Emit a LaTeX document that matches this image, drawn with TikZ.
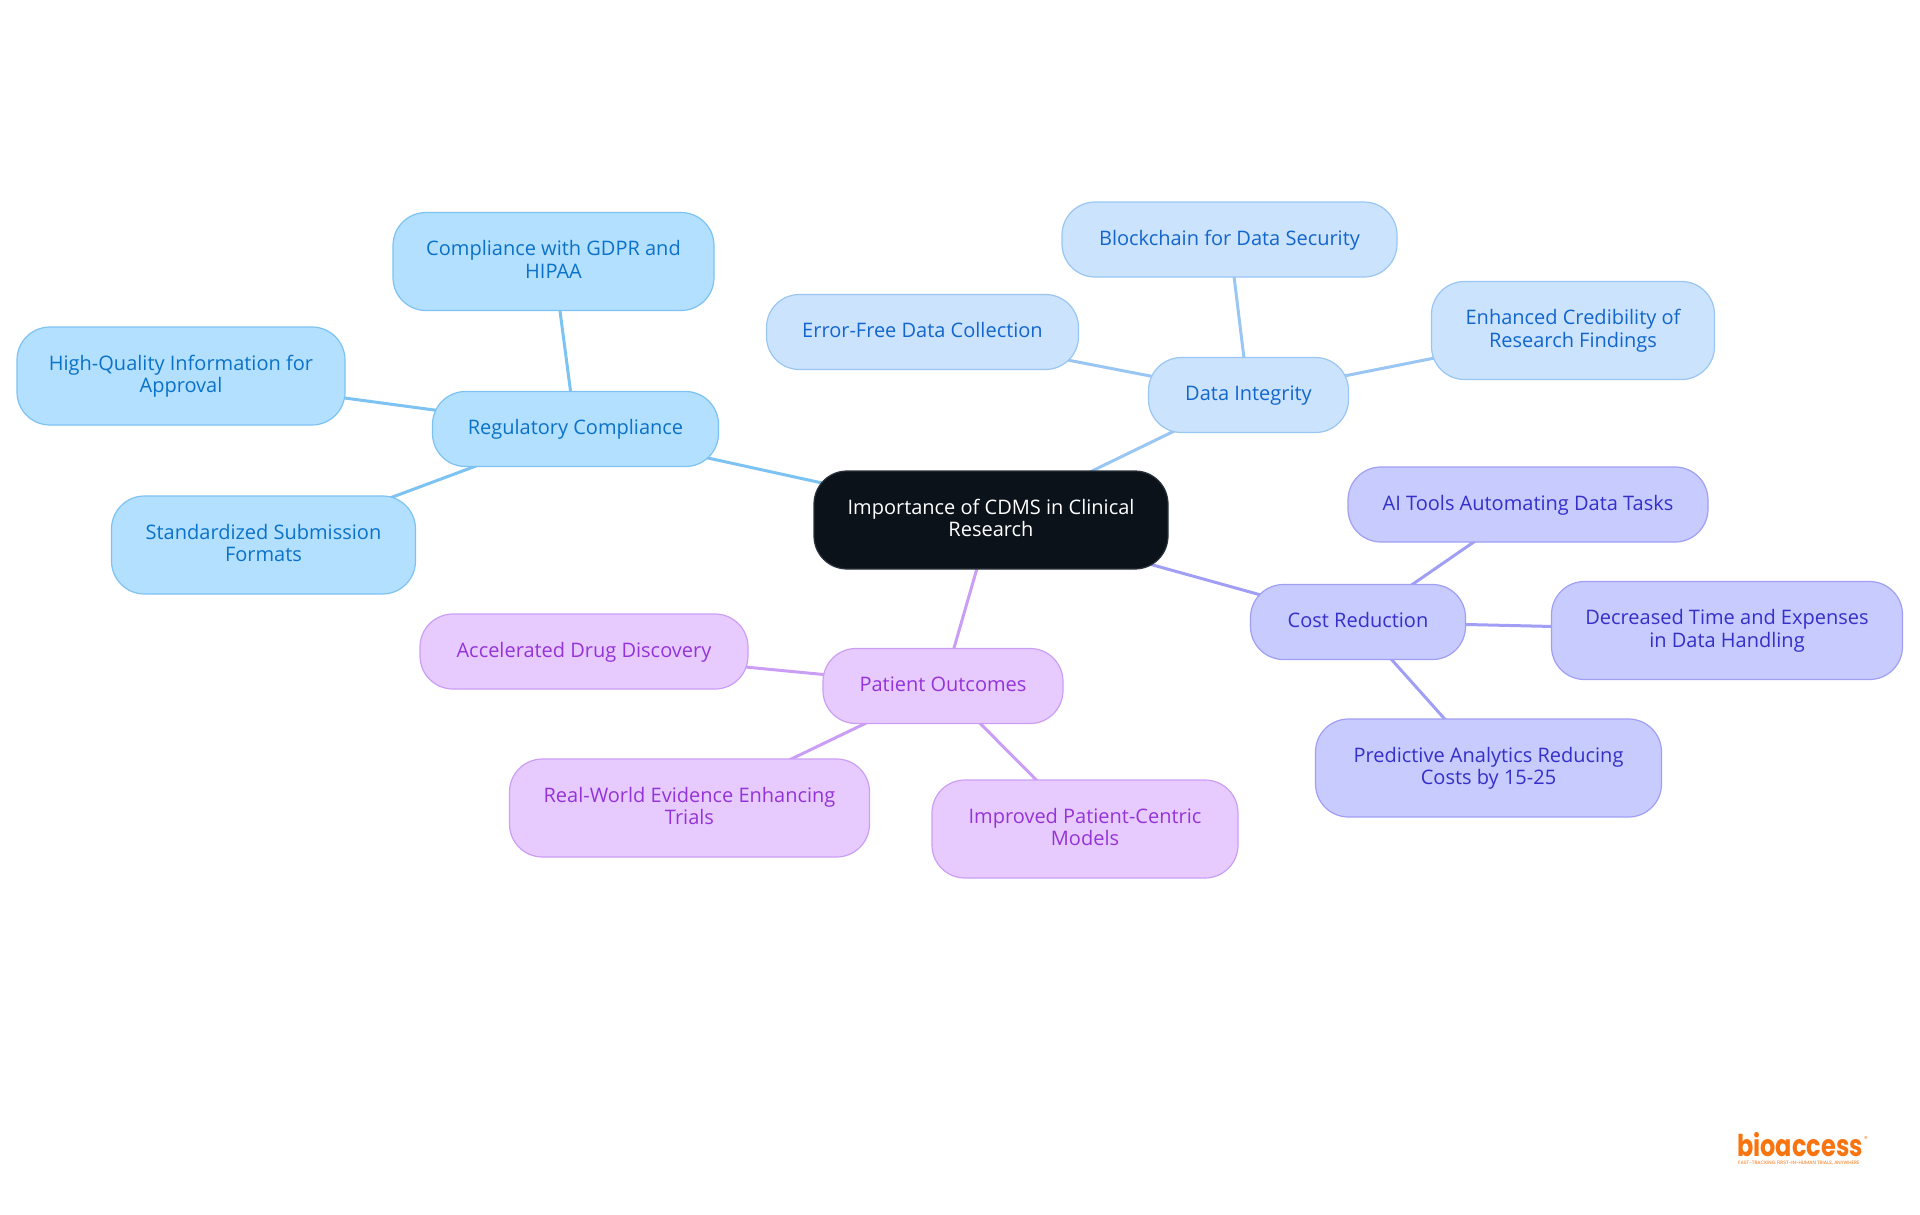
\documentclass[tikz,border=0pt]{standalone}
\usepackage{fontspec}
\usepackage{xcolor}
\setmainfont{Open Sans}
\newfontfamily\logofont[FakeStretch=0.8]{Poppins}
\newfontfamily\tagfont{Poppins}
\usetikzlibrary{backgrounds}
\definecolor{rootfill}{HTML}{0B121A}
\definecolor{rootline}{HTML}{2C333B}
\definecolor{regfill}{HTML}{B4E0FF}
\definecolor{regline}{HTML}{7CC3F3}
\definecolor{regtext}{HTML}{0A72C8}
\definecolor{datafill}{HTML}{CCE3FD}
\definecolor{dataline}{HTML}{99C6F3}
\definecolor{datatext}{HTML}{1266CC}
\definecolor{costfill}{HTML}{C8CBFE}
\definecolor{costline}{HTML}{A09FF5}
\definecolor{costtext}{HTML}{3430C8}
\definecolor{patfill}{HTML}{E8CBFE}
\definecolor{patline}{HTML}{CB9EF5}
\definecolor{pattext}{HTML}{9434D8}
\definecolor{logoorange}{HTML}{F9730F}
\tikzset{
	mapnode/.style={draw,rounded corners=33pt,align=center,line width=1.2pt,inner sep=0pt,
		minimum height=75pt,text height=15pt,text depth=4pt,font=\fontsize{20}{22.4}\selectfont},
	twoline/.style={minimum height=98pt,text height=38pt,text depth=4.6pt},
	branch/.style={line width=3pt},
}
\begin{document}
\begin{tikzpicture}[x=1pt,y=-1pt]
	\useasboundingbox (0,0) rectangle (1920,1215);
	\node[mapnode,twoline,fill=rootfill,draw=rootline,text=white,minimum width=354pt] (root) at (991,520) {Importance of CDMS in Clinical\\Research};
	\begin{scope}[every node/.style={mapnode,fill=regfill,draw=regline,text=regtext}]
		\node[minimum width=286pt] (reg) at (575.5,429) {Regulatory Compliance};
		\node[twoline,minimum width=321pt] (gdpr) at (553.5,261.5) {Compliance with GDPR and\\HIPAA};
		\node[twoline,minimum width=328pt] (quality) at (181,376) {High-Quality Information for\\Approval};
		\node[twoline,minimum width=304pt] (submission) at (263.5,545) {Standardized Submission\\Formats};
	\end{scope}
	\begin{scope}[every node/.style={mapnode,fill=datafill,draw=dataline,text=datatext}]
		\node[minimum width=200pt] (data) at (1248.5,395) {Data Integrity};
		\node[minimum width=335pt] (block) at (1229.5,239.5) {Blockchain for Data Security};
		\node[minimum width=312pt] (errorfree) at (922.5,332) {Error-Free Data Collection};
		\node[twoline,minimum width=283pt] (credible) at (1573,330.5) {Enhanced Credibility of\\Research Findings};
	\end{scope}
	\begin{scope}[every node/.style={mapnode,fill=costfill,draw=costline,text=costtext}]
		\node[minimum width=215pt] (cost) at (1358,622) {Cost Reduction};
		\node[minimum width=360pt] (aitools) at (1528,504.5) {AI Tools Automating Data Tasks};
		\node[twoline,minimum width=351pt] (handling) at (1727,630.5) {Decreased Time and Expenses\\in Data Handling};
		\node[twoline,minimum width=346pt] (predict) at (1488.5,768) {Predictive Analytics Reducing\\Costs by 15-25};
	\end{scope}
	\begin{scope}[every node/.style={mapnode,fill=patfill,draw=patline,text=pattext}]
		\node[minimum width=240pt] (patient) at (943,686) {Patient Outcomes};
		\node[minimum width=328pt] (discovery) at (584,651.5) {Accelerated Drug Discovery};
		\node[twoline,minimum width=360pt] (evidence) at (689.5,808) {Real-World Evidence Enhancing\\Trials};
		\node[twoline,minimum width=306pt] (centric) at (1085,829) {Improved Patient-Centric\\Models};
	\end{scope}
	\begin{scope}[on background layer]
		\draw[branch,regline] (root.center) -- (reg.center);
		\draw[branch,regline] (reg.center) -- (gdpr.center);
		\draw[branch,regline] (reg.center) -- (quality.center);
		\draw[branch,regline] (reg.center) -- (submission.center);
		\draw[branch,dataline] (root.center) -- (data.center);
		\draw[branch,dataline] (data.center) -- (block.center);
		\draw[branch,dataline] (data.center) -- (errorfree.center);
		\draw[branch,dataline] (data.center) -- (credible.center);
		\draw[branch,costline] (root.center) -- (cost.center);
		\draw[branch,costline] (cost.center) -- (aitools.center);
		\draw[branch,costline] (cost.center) -- (handling.center);
		\draw[branch,costline] (cost.center) -- (predict.center);
		\draw[branch,patline] (root.center) -- (patient.center);
		\draw[branch,patline] (patient.center) -- (discovery.center);
		\draw[branch,patline] (patient.center) -- (evidence.center);
		\draw[branch,patline] (patient.center) -- (centric.center);
	\end{scope}
	\node[anchor=base west,inner sep=0pt,text=logoorange,font=\logofont\bfseries\fontsize{30}{30}\selectfont] (logo) at (1737,1156) {bioaccess};
	\node[inner sep=0pt,text=logoorange,font=\tagfont\fontsize{7}{7}\selectfont] (mark) at (1866,1139) {®};
	\node[anchor=base west,inner sep=0pt,text=logoorange,font=\tagfont\fontsize{4.8}{4.8}\selectfont] (tagline) at (1738,1164) {FAST-TRACKING FIRST-IN-HUMAN TRIALS, ANYWHERE};
\end{tikzpicture}
\end{document}
